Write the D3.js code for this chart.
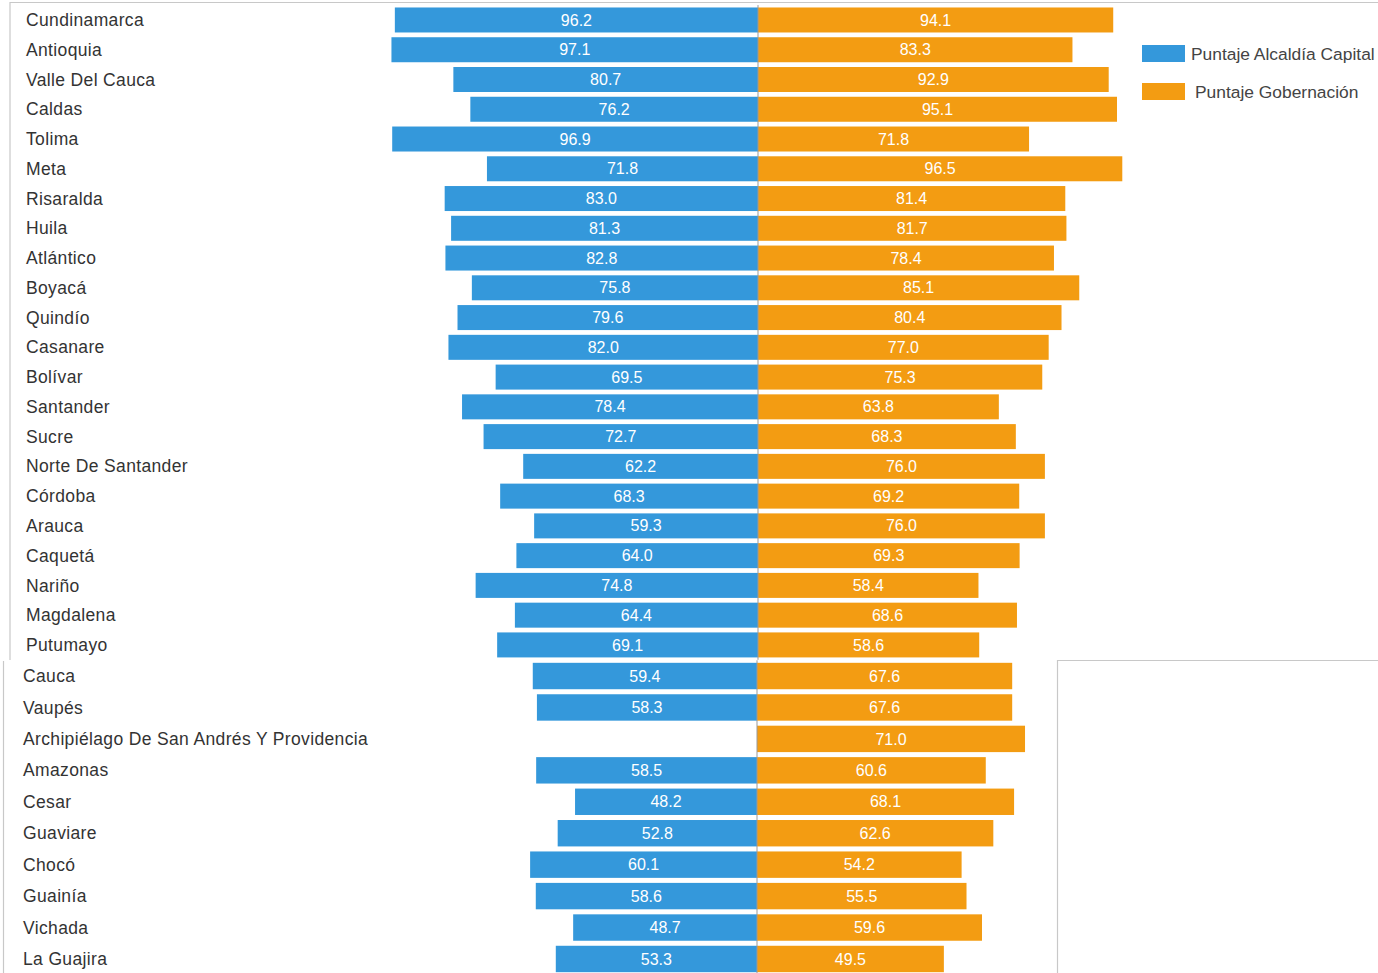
<!DOCTYPE html>
<html lang="es">
<head>
<meta charset="utf-8">
<title>Puntaje Alcaldía Capital vs Puntaje Gobernación</title>
<script src="https://cdn.jsdelivr.net/npm/d3@7"></script>
<style>
  body { margin: 0; background: #fff; }
  svg { display: block; font-family: "Liberation Sans", Arial, sans-serif; }
</style>
</head>
<body>
<svg></svg>
<script>
// departamentos, top to bottom
var departamentos = ["Cundinamarca", "Antioquia", "Valle Del Cauca", "Caldas", "Tolima", "Meta",
  "Risaralda", "Huila", "Atlántico", "Boyacá", "Quindío", "Casanare", "Bolívar", "Santander",
  "Sucre", "Norte De Santander", "Córdoba", "Arauca", "Caquetá", "Nariño", "Magdalena", "Putumayo",
  "Cauca", "Vaupés", "Archipiélago De San Andrés Y Providencia", "Amazonas", "Cesar", "Guaviare",
  "Chocó", "Guainía", "Vichada", "La Guajira"];

var alcaldia = [96.2, 97.1, 80.7, 76.2, 96.9, 71.8, 83.0, 81.3, 82.8, 75.8, 79.6, 82.0, 69.5, 78.4,
  72.7, 62.2, 68.3, 59.3, 64.0, 74.8, 64.4, 69.1,
  59.4, 58.3, null, 58.5, 48.2, 52.8, 60.1, 58.6, 48.7, 53.3];

var gobernacion = [94.1, 83.3, 92.9, 95.1, 71.8, 96.5, 81.4, 81.7, 78.4, 85.1, 80.4, 77.0, 75.3, 63.8,
  68.3, 76.0, 69.2, 76.0, 69.3, 58.4, 68.6, 58.6,
  67.6, 67.6, 71.0, 60.6, 68.1, 62.6, 54.2, 55.5, 59.6, 49.5];

var series = ["Puntaje Alcaldía Capital", "Puntaje Gobernación"];
var colores = ["#3498db", "#f39c12"];

var width = 1378;
var height = 973;
var pxPerUnit = 3.775;

var svg = d3.select("svg")
  .attr("width", width)
  .attr("height", height);

var rows = departamentos.map(function(d, i) {
  return { name: d, a: alcaldia[i], g: gobernacion[i] };
});

// the picture is two screenshots stacked, so two panels with their own row spacing
var panels = [
  { rows: rows.slice(0, 22), y0: 5.1, y1: 659.8, labelX: 26, center: 758 },
  { rows: rows.slice(22), y0: 660.3, y1: 974.7, labelX: 23, center: 757 }
];

// frame lines
svg.append("path")
  .attr("d", "M10,660V2.5H1378")
  .attr("fill", "none").attr("stroke", "#c8c8c8").attr("stroke-width", 1.2);
svg.append("path")
  .attr("d", "M3.5,973V661")
  .attr("fill", "none").attr("stroke", "#c8c8c8").attr("stroke-width", 1.2);
svg.append("path")
  .attr("d", "M1057.5,973V660.5H1378")
  .attr("fill", "none").attr("stroke", "#c8c8c8").attr("stroke-width", 1.2);

panels.forEach(function(p) {
  var y = d3.scaleBand()
    .domain(p.rows.map(function(d) { return d.name; }))
    .range([p.y0, p.y1])
    .paddingInner(0.16)
    .paddingOuter(0.08);

  var xLeft = d3.scaleLinear().domain([0, 100]).range([p.center, p.center - 100 * pxPerUnit]);
  var xRight = d3.scaleLinear().domain([0, 100]).range([p.center, p.center + 100 * pxPerUnit]);

  var g = svg.append("g");

  // category labels
  g.selectAll("text.cat")
    .data(p.rows)
    .enter()
    .append("text")
    .attr("class", "cat")
    .attr("x", p.labelX)
    .attr("y", function(d) { return y(d.name) + y.bandwidth() / 2; })
    .attr("dy", "0.35em")
    .attr("fill", "#333")
    .style("font-size", "17.5px")
    .style("letter-spacing", "0.35px")
    .text(function(d) { return d.name; });

  // blue bars (left)
  var left = p.rows.filter(function(d) { return d.a != null; });
  g.selectAll("rect.a")
    .data(left)
    .enter()
    .append("rect")
    .attr("class", "a")
    .attr("x", function(d) { return xLeft(d.a); })
    .attr("y", function(d) { return y(d.name); })
    .attr("width", function(d) { return xLeft(0) - xLeft(d.a); })
    .attr("height", y.bandwidth())
    .attr("fill", colores[0]);

  // orange bars (right)
  g.selectAll("rect.g")
    .data(p.rows)
    .enter()
    .append("rect")
    .attr("class", "g")
    .attr("x", xRight(0))
    .attr("y", function(d) { return y(d.name); })
    .attr("width", function(d) { return xRight(d.g) - xRight(0); })
    .attr("height", y.bandwidth())
    .attr("fill", colores[1]);

  // center line
  g.append("line")
    .attr("x1", p.center).attr("x2", p.center)
    .attr("y1", p.y0).attr("y2", p.y1)
    .attr("stroke", "#999").attr("stroke-width", 1);

  // value labels
  g.selectAll("text.va")
    .data(left)
    .enter()
    .append("text")
    .attr("class", "va")
    .attr("x", function(d) { return (xLeft(d.a) + xLeft(0)) / 2; })
    .attr("y", function(d) { return y(d.name) + y.bandwidth() / 2; })
    .attr("dy", "0.35em")
    .attr("text-anchor", "middle")
    .attr("fill", "#fff")
    .style("font-size", "16px")
    .text(function(d) { return d.a.toFixed(1); });

  g.selectAll("text.vg")
    .data(p.rows)
    .enter()
    .append("text")
    .attr("class", "vg")
    .attr("x", function(d) { return (xRight(d.g) + xRight(0)) / 2; })
    .attr("y", function(d) { return y(d.name) + y.bandwidth() / 2; })
    .attr("dy", "0.35em")
    .attr("text-anchor", "middle")
    .attr("fill", "#fff")
    .style("font-size", "16px")
    .text(function(d) { return d.g.toFixed(1); });
});

// legend
var legend = svg.append("g").attr("transform", "translate(1142,45)");
series.forEach(function(s, i) {
  var item = legend.append("g").attr("transform", "translate(0," + (i * 38) + ")");
  item.append("rect")
    .attr("width", 43).attr("height", 17)
    .attr("fill", colores[i]);
  item.append("text")
    .attr("x", i == 0 ? 49 : 53)
    .attr("y", 8.5)
    .attr("dy", "0.35em")
    .attr("fill", "#444")
    .style("font-size", "17.4px")
    .text(s);
});
</script>
</body>
</html>
